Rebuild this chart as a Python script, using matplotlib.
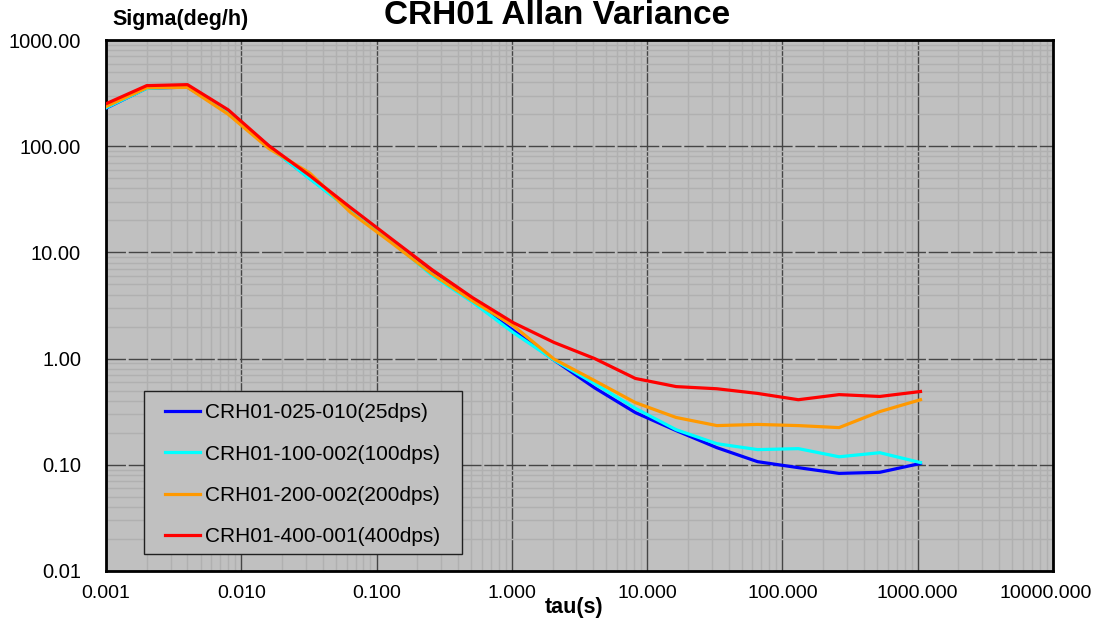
import numpy as np
import matplotlib
matplotlib.use("Agg")
import matplotlib.pyplot as plt
import matplotlib.transforms as mtransforms
from matplotlib.patches import Rectangle
from matplotlib.ticker import FixedLocator, FixedFormatter, LogLocator, NullFormatter

plt.rcParams['font.family'] = ['Liberation Sans', 'DejaVu Sans']

# tau values (s), octave spaced
tau = [0.001, 0.002, 0.004, 0.008, 0.016, 0.032, 0.064, 0.128, 0.256, 0.512,
       1.024, 2.048, 4.096, 8.192, 16.384, 32.768, 65.536, 131.072, 262.144,
       524.288, 1048.576]

sig_025 = [228, 352, 360, 210, 100, 50, 25.5, 13.0, 6.5, 3.45,
           1.84, 0.97, 0.53, 0.31, 0.21, 0.145, 0.107, 0.094, 0.083, 0.085, 0.103]
sig_100 = [230, 350, 362, 205, 99, 49.5, 25, 12.8, 6.1, 3.4,
           1.76, 0.97, 0.58, 0.34, 0.214, 0.158, 0.139, 0.142, 0.119, 0.13, 0.105]
sig_200 = [236, 355, 358, 200, 95, 56, 23.9, 12.4, 6.3, 3.5,
           2.04, 0.99, 0.62, 0.385, 0.279, 0.234, 0.24, 0.234, 0.224, 0.317, 0.41]
sig_400 = [251, 372, 380, 220, 101, 53, 26.5, 13.5, 6.9, 3.75,
           2.18, 1.42, 1.0, 0.65, 0.545, 0.52, 0.47, 0.41, 0.458, 0.44, 0.49]

labels = ["CRH01-025-010(25dps)", "CRH01-100-002(100dps)",
          "CRH01-200-002(200dps)", "CRH01-400-001(400dps)"]
colors = ["#0000FF", "#00FFFF", "#FF9900", "#FF0000"]

x_ticks = [0.001, 0.01, 0.1, 1, 10, 100, 1000, 10000]
x_ticklabels = ["0.001", "0.010", "0.100", "1.000", "10.000", "100.000", "1000.000", "10000.000"]
y_ticks = [0.01, 0.1, 1, 10, 100, 1000]
y_ticklabels = ["0.01", "0.10", "1.00", "10.00", "100.00", "1000.00"]

fig = plt.figure(figsize=(10.97, 6.21), dpi=100)
ax = fig.add_axes([106/1097, 1-571/621, (1053-106)/1097, (571-40)/621])
ax.set_facecolor("#C0C0C0")

for s, lab, c in zip([sig_025, sig_100, sig_200, sig_400], labels, colors):
    ax.plot(tau, s, color=c, lw=2.3, label=lab, zorder=3)

ax.set_xscale("log")
ax.set_yscale("log")
ax.set_xlim(0.001, 10000)
ax.set_ylim(0.01, 1000)

ax.xaxis.set_major_locator(FixedLocator(x_ticks))
ax.xaxis.set_major_formatter(FixedFormatter(x_ticklabels))
ax.yaxis.set_major_locator(FixedLocator(y_ticks))
ax.yaxis.set_major_formatter(FixedFormatter(y_ticklabels))
ax.xaxis.set_minor_locator(LogLocator(base=10, subs=np.arange(2, 10), numticks=20))
ax.yaxis.set_minor_locator(LogLocator(base=10, subs=np.arange(2, 10), numticks=20))
ax.xaxis.set_minor_formatter(NullFormatter())
ax.yaxis.set_minor_formatter(NullFormatter())

ax.set_axisbelow(True)
ax.grid(which="minor", color="#B0B0B0", lw=1.0)
ax.xaxis.grid(which="major", color="#454545", lw=1.0, ls="-")
ax.yaxis.grid(which="major", color="#454545", lw=1.0, ls=(0, (14, 2)))

ax.tick_params(which="both", length=0, labelsize=14.5)
ax.tick_params(axis="x", pad=10, labelsize=14)
ax.tick_params(axis="y", pad=18)
for sp in ax.spines.values():
    sp.set_linewidth(2)
    sp.set_color("black")

# nudge the last x label inward so it stays inside the figure
last = ax.get_xticklabels()[-1]
last.set_transform(last.get_transform() +
                   mtransforms.ScaledTranslation(-7/100, 0, fig.dpi_scale_trans))

# legend box (drawn separately so the padding matches)
ax.add_patch(Rectangle((38/947, 17/531), (462-144)/947, (554-391)/531,
                       transform=ax.transAxes, facecolor="#C0C0C0",
                       edgecolor="#202020", lw=1, zorder=4))
leg = ax.legend(loc="upper left", bbox_to_anchor=((165-106)/947, (571-403)/531),
                fontsize=15, frameon=False, handlelength=1.68, handletextpad=0.24,
                labelspacing=1.08, borderpad=0, borderaxespad=0)
leg.set_zorder(5)

fig.text(557/1097, 1-24/621, "CRH01 Allan Variance", ha="center", va="baseline",
         fontsize=24, fontweight="bold")
fig.text(112/1097, 1-20/621, "Sigma(deg/h)", ha="left", va="center",
         fontsize=15.5, fontweight="bold")
fig.text(574/1097, 1-608/621, "tau(s)", ha="center", va="center",
         fontsize=15.5, fontweight="bold")

fig.savefig("out.png", dpi=100)
